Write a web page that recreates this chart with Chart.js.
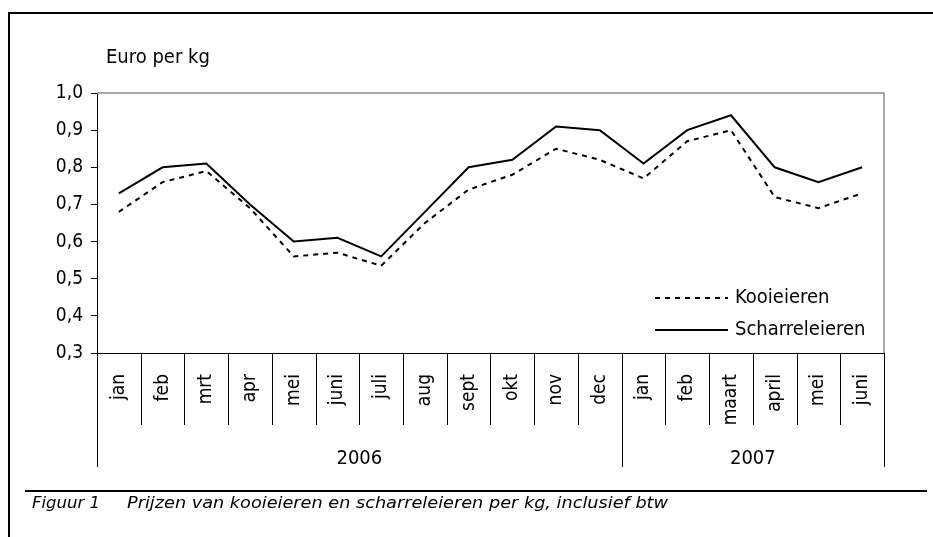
<!DOCTYPE html>
<html>
<head>
<meta charset="utf-8">
<script src="https://cdn.jsdelivr.net/npm/chart.js@4.4.1/dist/chart.umd.min.js"></script>
<style>
  html, body { margin: 0; padding: 0; background: #fff; }
  canvas { display: block; }
</style>
</head>
<body>
<canvas id="myChart" width="933" height="537"></canvas>
<script>
// months along the x axis, grouped by year
const months = ['jan', 'feb', 'mrt', 'apr', 'mei', 'juni', 'juli', 'aug', 'sept', 'okt', 'nov', 'dec',
                'jan', 'feb', 'maart', 'april', 'mei', 'juni'];
const years = ['2006', '2007'];
const monthsPerYear = [12, 6];

// euro per kg
const kooieieren = [0.68, 0.76, 0.79, 0.69, 0.56, 0.57, 0.535, 0.65, 0.74, 0.78, 0.85, 0.82,
                    0.77, 0.87, 0.90, 0.72, 0.69, 0.73];
const scharreleieren = [0.73, 0.80, 0.81, 0.70, 0.60, 0.61, 0.56, 0.68, 0.80, 0.82, 0.91, 0.90,
                        0.81, 0.90, 0.94, 0.80, 0.76, 0.80];

const FONT = '"Liberation Sans Narrow", "DejaVu Sans Condensed", "Liberation Sans", sans-serif';

// draw text stretched/squeezed horizontally to a given width
function fitText(ctx, text, x, y, w) {
    const m = ctx.measureText(text).width;
    ctx.save();
    ctx.translate(x, y);
    ctx.scale(w / m, 1);
    ctx.fillText(text, 0, 0);
    ctx.restore();
}

const extras = {
    id: 'extras',
    beforeDatasetsDraw(chart) {
        const ctx = chart.ctx, a = chart.chartArea;
        ctx.save();
        ctx.strokeStyle = '#8c8c8c';
        ctx.lineWidth = 1.5;
        ctx.beginPath();
        ctx.moveTo(a.left, a.top);
        ctx.lineTo(a.right, a.top);
        ctx.lineTo(a.right, a.bottom);
        ctx.stroke();
        ctx.restore();
    },
    afterDraw(chart) {
        const ctx = chart.ctx, a = chart.chartArea, x = chart.scales.x;
        ctx.save();

        // outer frame
        ctx.strokeStyle = '#000';
        ctx.lineWidth = 2;
        ctx.beginPath();
        ctx.moveTo(933, 13);
        ctx.lineTo(9, 13);
        ctx.lineTo(9, 537);
        ctx.moveTo(25, 491);
        ctx.lineTo(927, 491);
        ctx.stroke();

        // axis title
        ctx.fillStyle = '#000';
        ctx.font = '20px ' + FONT;
        ctx.textAlign = 'left';
        ctx.textBaseline = 'middle';
        ctx.fillText('Euro per kg', 106, 58);

        // category separators and year labels
        const step = x.getPixelForValue(1) - x.getPixelForValue(0);
        const edge = i => x.getPixelForValue(0) - step / 2 + i * step;
        const yearEdges = [0];
        monthsPerYear.forEach(n => yearEdges.push(yearEdges[yearEdges.length - 1] + n));
        ctx.strokeStyle = '#000';
        ctx.lineWidth = 1;
        ctx.beginPath();
        for (let i = 0; i <= months.length; i++) {
            const px = Math.round(edge(i)) + 0.5;
            ctx.moveTo(px, a.bottom);
            ctx.lineTo(px, yearEdges.includes(i) ? 467 : 425);
        }
        ctx.stroke();
        ctx.font = '20px ' + FONT;
        ctx.textAlign = 'center';
        years.forEach((yr, k) => {
            ctx.fillText(yr, (edge(yearEdges[k]) + edge(yearEdges[k + 1])) / 2, 459);
        });

        // legend
        const lx = 655, lw = 73;
        ctx.font = '20px ' + FONT;
        ctx.textAlign = 'left';
        ctx.lineWidth = 2;
        ctx.setLineDash([5, 5]);
        ctx.beginPath();
        ctx.moveTo(lx, 298); ctx.lineTo(lx + lw, 298);
        ctx.stroke();
        ctx.setLineDash([]);
        ctx.beginPath();
        ctx.moveTo(lx, 330); ctx.lineTo(lx + lw, 330);
        ctx.stroke();
        ctx.fillText(chart.data.datasets[0].label, lx + lw + 7, 298);
        ctx.fillText(chart.data.datasets[1].label, lx + lw + 7, 330);

        // caption
        ctx.font = 'italic 16px ' + FONT;
        ctx.textBaseline = 'alphabetic';
        fitText(ctx, 'Figuur 1', 32, 508, 68);
        fitText(ctx, 'Prijzen van kooieieren en scharreleieren per kg, inclusief btw', 127, 508, 541);
        ctx.restore();
    }
};

new Chart(document.getElementById('myChart'), {
    type: 'line',
    data: {
        labels: months,
        datasets: [
            {
                label: 'Kooieieren',
                data: kooieieren,
                borderColor: '#000',
                borderWidth: 2,
                borderDash: [5, 5],
                pointRadius: 0,
                tension: 0
            },
            {
                label: 'Scharreleieren',
                data: scharreleieren,
                borderColor: '#000',
                borderWidth: 2,
                pointRadius: 0,
                tension: 0
            }
        ]
    },
    options: {
        responsive: false,
        animation: false,
        layout: { padding: { left: 20, right: 49, top: 93, bottom: 0 } },
        plugins: {
            legend: { display: false },
            tooltip: { enabled: false }
        },
        scales: {
            x: {
                offset: true,
                grid: { display: false },
                border: { display: true, color: '#000', width: 1 },
                ticks: {
                    color: '#000',
                    font: { family: FONT, size: 19 },
                    minRotation: 90,
                    maxRotation: 90,
                    autoSkip: false,
                    padding: 13
                },
                afterFit(scale) { scale.height = 184; }
            },
            y: {
                min: 0.3,
                max: 1.0,
                grid: {
                    drawOnChartArea: false,
                    drawTicks: true,
                    tickLength: 6,
                    color: '#000'
                },
                border: { display: true, color: '#000', width: 1 },
                ticks: {
                    stepSize: 0.1,
                    color: '#000',
                    font: { family: FONT, size: 19 },
                    padding: 8,
                    callback: v => v.toFixed(1).replace('.', ',')
                },
                afterFit(scale) { scale.width = 77; }
            }
        }
    },
    plugins: [extras]
});
</script>
</body>
</html>
